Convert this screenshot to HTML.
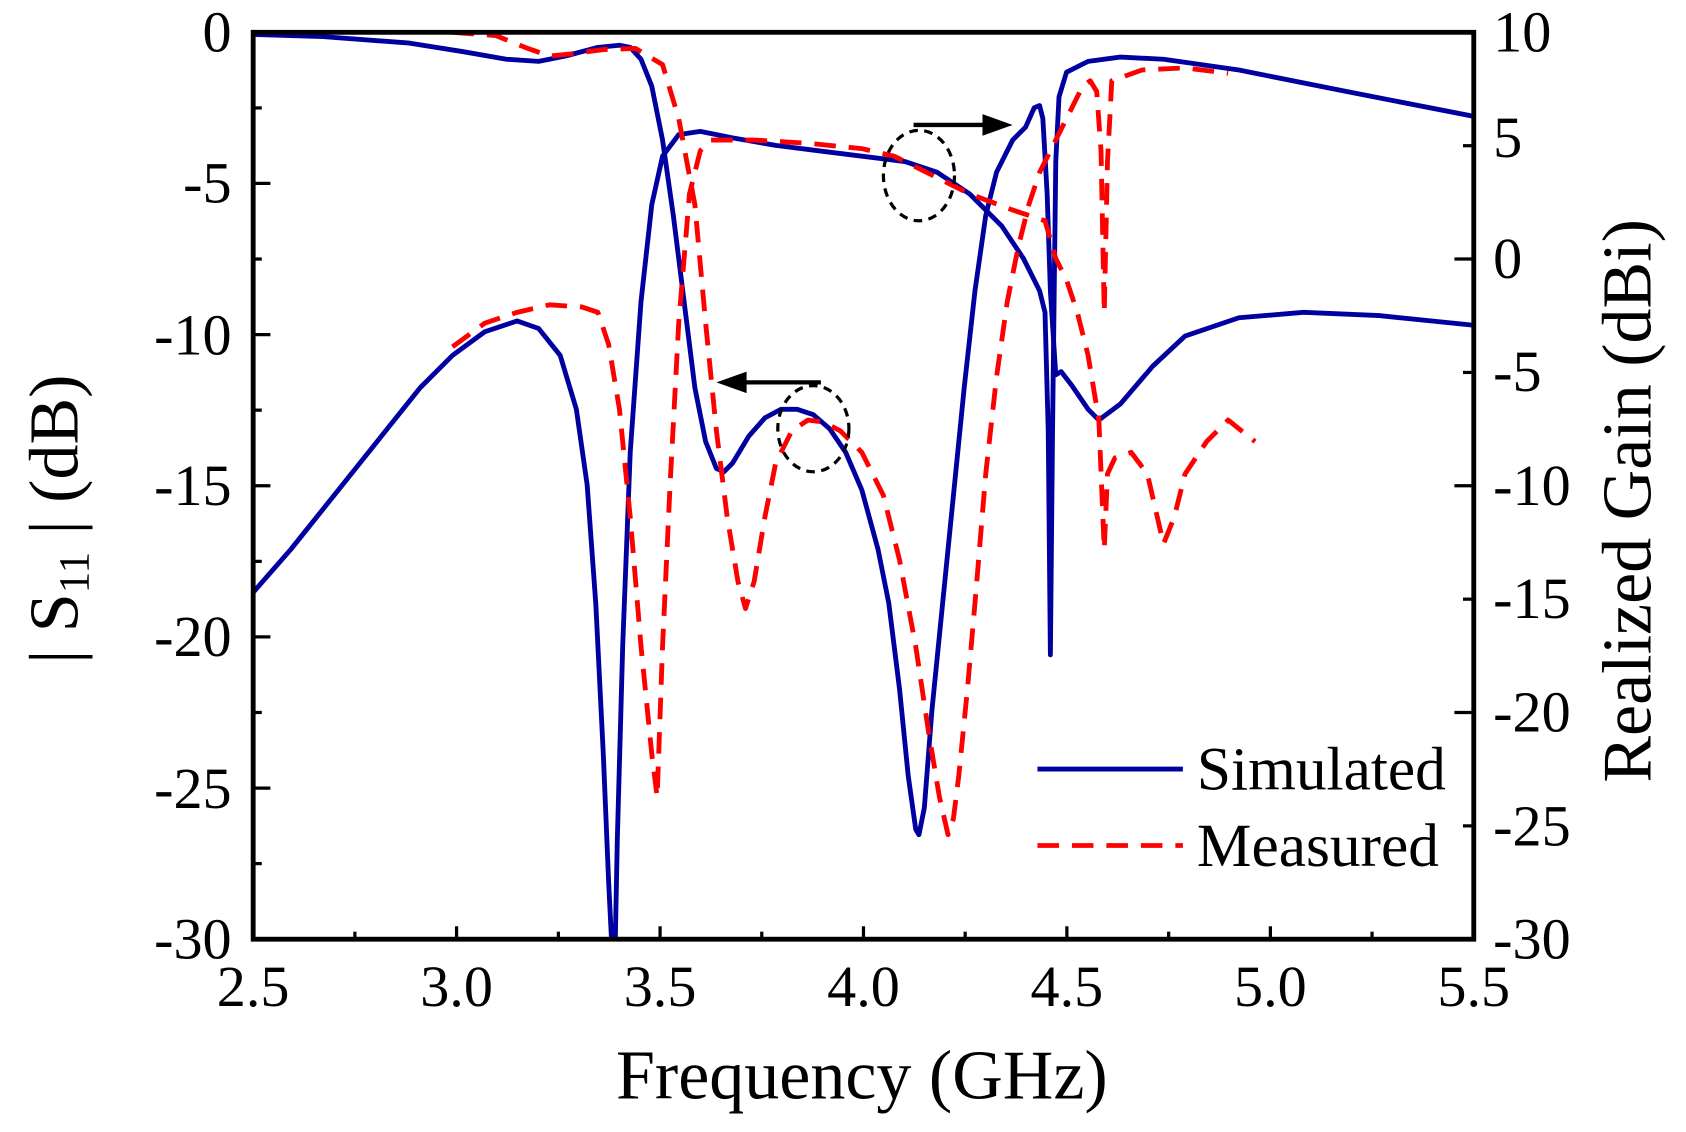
<!DOCTYPE html>
<html><head><meta charset="utf-8"><style>
html,body{margin:0;padding:0;background:#fff;}
svg{display:block;}
text{font-family:"Liberation Serif",serif;fill:#000;}
</style></head><body>
<svg width="1686" height="1132" viewBox="0 0 1565 1051" preserveAspectRatio="none" xmlns="http://www.w3.org/2000/svg">
<defs><clipPath id="c"><rect x="235" y="29" width="1133" height="843"/></clipPath></defs>
<g clip-path="url(#c)" fill="none" stroke-linejoin="round" stroke-linecap="butt">
<polyline stroke="#0000a0" stroke-width="4.5" points="235,32 300,34 380,40 430,48 470,55 500,57 525,52 555,44 575,42 585,44 595,55 605,80 615,130 625,200 635,280 645,360 655,410 665,435 672,438 680,430 695,405 710,388 725,380 740,380 755,385 770,398 785,420 800,455 815,510 825,560 835,640 843,720 850,770 853,775 858,750 865,660 875,560 885,460 895,360 905,270 915,200 925,160 940,130 952,118 960,100 965,98 968,110 972,180 975,270 980,348 985,345 995,358 1010,380 1020,390 1040,375 1070,340 1100,312 1150,295 1210,290 1280,293 1368,302"/>
<polyline stroke="#0000a0" stroke-width="4.5" points="235,550 270,510 310,460 350,410 390,360 420,330 450,308 480,298 500,305 520,330 535,380 545,450 553,560 560,700 565,820 568,880 571,880 573,780 578,600 585,420 595,280 605,190 615,145 630,125 650,122 680,128 720,135 760,140 800,145 840,150 870,160 900,180 930,210 950,240 965,270 970,290 973,400 975,608 977,400 980,150 983,90 990,67 1010,57 1040,53 1080,55 1150,65 1250,85 1368,108"/>
<polyline stroke="#ff0000" stroke-width="4.5" stroke-dasharray="20,12" points="420,30 460,33 490,45 510,52 530,50 560,46 590,45 615,60 630,110 645,190 655,300 665,400 675,480 685,540 692,565 700,540 710,480 720,430 735,400 750,390 765,392 780,400 800,420 820,460 835,520 850,600 862,680 872,740 880,775 885,760 890,720 898,640 905,560 915,440 925,350 935,280 945,230 955,190 965,160 975,140 985,120 995,100 1005,80 1012,75 1018,85 1022,140 1025,290 1028,150 1032,75 1060,65 1100,63 1140,68"/>
<polyline stroke="#ff0000" stroke-width="4.5" stroke-dasharray="20,12" points="420,322 450,300 480,290 510,283 540,285 555,290 565,320 575,380 585,480 595,600 605,700 610,740 615,600 622,450 630,300 640,180 650,140 660,130 700,130 750,133 800,138 830,145 860,160 900,180 940,195 970,205 980,240 990,260 1000,290 1010,330 1020,390 1025,510 1028,440 1035,425 1050,420 1065,440 1080,505 1090,480 1100,440 1120,410 1140,390 1165,410"/>
</g>
<ellipse cx="853" cy="163" rx="33" ry="42" fill="none" stroke="#000" stroke-width="3" stroke-dasharray="8,6"/>
<ellipse cx="755" cy="398" rx="33" ry="40" fill="none" stroke="#000" stroke-width="3" stroke-dasharray="8,6"/>
<line x1="848" y1="116" x2="915" y2="116" stroke="#000" stroke-width="4"/>
<polygon points="940,116 912,106 912,126" fill="#000"/>
<line x1="762" y1="355" x2="690" y2="355" stroke="#000" stroke-width="4"/>
<polygon points="665,355 693,345 693,365" fill="#000"/>
<rect x="235" y="30" width="1133" height="842" fill="none" stroke="#000" stroke-width="4.5"/>
<g stroke="#000" stroke-width="3">
<line x1="423.8" y1="872" x2="423.8" y2="860"/><line x1="612.7" y1="872" x2="612.7" y2="860"/><line x1="801.5" y1="872" x2="801.5" y2="860"/><line x1="990.3" y1="872" x2="990.3" y2="860"/><line x1="1179.2" y1="872" x2="1179.2" y2="860"/>
<line x1="329.4" y1="872" x2="329.4" y2="865"/><line x1="518.3" y1="872" x2="518.3" y2="865"/><line x1="707.1" y1="872" x2="707.1" y2="865"/><line x1="895.9" y1="872" x2="895.9" y2="865"/><line x1="1084.8" y1="872" x2="1084.8" y2="865"/><line x1="1273.6" y1="872" x2="1273.6" y2="865"/>
<line x1="235" y1="170.3" x2="251" y2="170.3"/><line x1="235" y1="310.7" x2="251" y2="310.7"/><line x1="235" y1="451" x2="251" y2="451"/><line x1="235" y1="591.3" x2="251" y2="591.3"/><line x1="235" y1="731.7" x2="251" y2="731.7"/>
<line x1="235" y1="100.2" x2="243" y2="100.2"/><line x1="235" y1="240.5" x2="243" y2="240.5"/><line x1="235" y1="380.8" x2="243" y2="380.8"/><line x1="235" y1="521.2" x2="243" y2="521.2"/><line x1="235" y1="661.5" x2="243" y2="661.5"/><line x1="235" y1="801.8" x2="243" y2="801.8"/>
<line x1="1368" y1="135.3" x2="1358" y2="135.3"/><line x1="1368" y1="240.5" x2="1350" y2="240.5"/><line x1="1368" y1="345.8" x2="1358" y2="345.8"/><line x1="1368" y1="451" x2="1350" y2="451"/><line x1="1368" y1="556.3" x2="1358" y2="556.3"/><line x1="1368" y1="661.5" x2="1350" y2="661.5"/><line x1="1368" y1="766.8" x2="1358" y2="766.8"/>
</g>
<g font-size="54" text-anchor="end">
<text x="215" y="48">0</text><text x="215" y="188">-5</text><text x="215" y="329">-10</text><text x="215" y="469">-15</text><text x="215" y="609">-20</text><text x="215" y="750">-25</text><text x="215" y="890">-30</text>
</g>
<g font-size="54" text-anchor="start">
<text x="1386" y="48">10</text><text x="1386" y="146">5</text><text x="1386" y="258">0</text><text x="1386" y="363">-5</text><text x="1386" y="469">-10</text><text x="1386" y="574">-15</text><text x="1386" y="679">-20</text><text x="1386" y="785">-25</text><text x="1386" y="890">-30</text>
</g>
<g font-size="54" text-anchor="middle">
<text x="235" y="934">2.5</text><text x="423.8" y="934">3.0</text><text x="612.7" y="934">3.5</text><text x="801.5" y="934">4.0</text><text x="990.3" y="934">4.5</text><text x="1179.2" y="934">5.0</text><text x="1368" y="934">5.5</text>
</g>
<text x="800" y="1020" font-size="65" text-anchor="middle">Frequency (GHz)</text>
<text transform="translate(72,482) rotate(-90)" font-size="65" text-anchor="middle">| S<tspan font-size="40" dy="10">11</tspan><tspan dy="-10"> | (dB)</tspan></text>
<text transform="translate(1532,465) rotate(-90)" font-size="65" text-anchor="middle">Realized Gain (dBi)</text>
<line x1="963" y1="714" x2="1098" y2="714" stroke="#0000a0" stroke-width="4.5"/>
<line x1="963" y1="785" x2="1098" y2="785" stroke="#ff0000" stroke-width="4.5" stroke-dasharray="20,12"/>
<text x="1111" y="733" font-size="57">Simulated</text>
<text x="1111" y="804" font-size="57">Measured</text>
</svg>
</body></html>
